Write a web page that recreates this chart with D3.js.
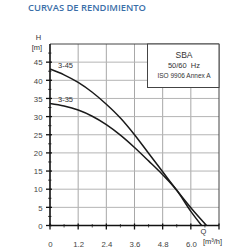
<!DOCTYPE html>
<html><head><meta charset="utf-8">
<script src="https://cdn.jsdelivr.net/npm/d3@7"></script>
<style>html,body{margin:0;padding:0;background:#fff;}svg{display:block;}</style>
</head><body>
<script>
const title = "CURVAS DE RENDIMIENTO";
const q45 = [0, 0.6, 1.2, 1.8, 2.4, 3.0, 3.6, 4.2, 4.8, 5.4, 6.0, 6.67];
const h45 = [43.1, 41.5, 39.4, 36.7, 33.4, 29.6, 25.0, 19.9, 14.8, 9.7, 4.9, 0];
const q35 = [0, 0.6, 1.2, 1.8, 2.4, 3.0, 3.6, 4.2, 4.8, 5.4, 6.0, 6.46];
const h35 = [33.6, 32.9, 31.8, 30.1, 27.8, 24.9, 21.5, 17.8, 14.0, 9.7, 3.9, 0];
const seriesNames = ["3-45", "3-35"];
const xTicks = [0, 1.2, 2.4, 3.6, 4.8, 6.0];
const xTickLabels = ["0", "1.2", "2.4", "3.6", "4.8", "6.0"];
const yTicks = [0, 5, 10, 15, 20, 25, 30, 35, 40, 45];
const legendLines = ["SBA", "50/60  Hz", "ISO 9906 Annex A"];

const W = 250, H = 250;
const svg = d3.select("body").append("svg").attr("width", W).attr("height", H);
const x = d3.scaleLinear().domain([0, 7.2]).range([50, 219]);
const y = d3.scaleLinear().domain([0, 50]).range([225.5, 44]);
const font = "'Liberation Sans', Arial, sans-serif";

svg.append("text").attr("x", 28).attr("y", 10.5).text(title)
  .attr("font-family", "'Open Sans', sans-serif").attr("font-weight", 600)
  .attr("font-size", 8.6).attr("fill", "#3a6ea8")
  .attr("textLength", 118).attr("lengthAdjust", "spacingAndGlyphs");

// grid
const g = svg.append("g");
g.selectAll("line.gx").data(xTicks.slice(1)).join("line")
  .attr("x1", d => x(d)).attr("x2", d => x(d)).attr("y1", y(50)).attr("y2", y(0))
  .attr("stroke", "#a8a8a8").attr("stroke-width", 1);
g.selectAll("line.gy").data(yTicks.slice(1)).join("line")
  .attr("x1", x(0)).attr("x2", x(7.2)).attr("y1", d => y(d)).attr("y2", d => y(d))
  .attr("stroke", "#b4b4b4").attr("stroke-width", 1);

// frame top/right
svg.append("path").attr("d", `M${x(0)},${y(50)}H${x(7.2)}V${y(0)}`)
  .attr("fill", "none").attr("stroke", "#444").attr("stroke-width", 1);

// legend box
const lb = {x0: 147.5, y0: y(50), x1: x(7.2), y1: 87.5};
svg.append("rect").attr("x", lb.x0).attr("y", lb.y0).attr("width", lb.x1 - lb.x0).attr("height", lb.y1 - lb.y0)
  .attr("fill", "#fff").attr("stroke", "#444").attr("stroke-width", 1);
const lsz = [8.5, 7.5, 6.5], ly = [58, 67.5, 77.5];
legendLines.forEach((t, i) => {
  svg.append("text").attr("x", 184).attr("y", ly[i]).attr("text-anchor", "middle")
    .attr("font-family", font).attr("font-size", lsz[i]).attr("fill", "#333")
    .attr("xml:space", "preserve").style("white-space", "pre").text(t);
});

// axes
const xAxis = d3.axisBottom(x).tickValues(xTicks).tickFormat((d, i) => xTickLabels[i]).tickSize(0).tickPadding(0);
const gx = svg.append("g").attr("transform", `translate(0,${y(0)})`).call(xAxis);
gx.select(".domain").remove();
gx.selectAll("text").attr("y", 15.5).attr("font-family", font).attr("font-size", 7.8).attr("fill", "#444");
const yAxis = d3.axisLeft(y).tickValues(yTicks).tickSize(0).tickPadding(0);
const gy = svg.append("g").attr("transform", `translate(${x(0)},0)`).call(yAxis);
gy.select(".domain").remove();
gy.selectAll("text").attr("x", -7.5).attr("dy", "0.35em").attr("font-family", font).attr("font-size", 7.8).attr("fill", "#444");

// minor/major tick marks
const xMinor = d3.range(0.6, 7.2, 1.2);
svg.selectAll("line.xmaj").data(xTicks.concat([7.2])).join("line")
  .attr("x1", d => x(d)).attr("x2", d => x(d)).attr("y1", y(0) - 2).attr("y2", y(0) + 4)
  .attr("stroke", "#111").attr("stroke-width", 1.3);
svg.selectAll("line.xmin").data(xMinor).join("line")
  .attr("x1", d => x(d)).attr("x2", d => x(d)).attr("y1", y(0) - 1.5).attr("y2", y(0) + 2)
  .attr("stroke", "#555").attr("stroke-width", 1);
const yMinor = d3.range(2.5, 50, 5);
svg.selectAll("line.ymaj").data(yTicks).join("line")
  .attr("x1", x(0) - 4).attr("x2", x(0) + 2).attr("y1", d => y(d)).attr("y2", d => y(d))
  .attr("stroke", "#111").attr("stroke-width", 1.3);
svg.selectAll("line.ymin").data(yMinor).join("line")
  .attr("x1", x(0) - 2).attr("x2", x(0) + 1.5).attr("y1", d => y(d)).attr("y2", d => y(d))
  .attr("stroke", "#555").attr("stroke-width", 1);

svg.append("path").attr("d", `M${x(0)},${y(50)}V${y(0)}H${x(7.2)}`)
  .attr("fill", "none").attr("stroke", "#111").attr("stroke-width", 1.6);

// axis titles
svg.append("text").attr("x", 38.5).attr("y", 40).attr("text-anchor", "middle").text("H")
  .attr("font-family", font).attr("font-size", 7.5).attr("fill", "#333");
svg.append("text").attr("x", 37).attr("y", 49.5).attr("text-anchor", "middle").text("[m]")
  .attr("font-family", font).attr("font-size", 7.5).attr("fill", "#333");
svg.append("text").attr("x", 203.5).attr("y", 233.5).attr("text-anchor", "middle").text("Q")
  .attr("font-family", font).attr("font-size", 7.5).attr("fill", "#333");
svg.append("text").attr("x", 212.5).attr("y", 244).attr("text-anchor", "middle").text("[m³/h]")
  .attr("font-family", font).attr("font-size", 7.5).attr("fill", "#333");

// curves
const line = d3.line().x(d => x(d[0])).y(d => y(d[1])).curve(d3.curveMonotoneX);
const series = [d3.zip(q45, h45), d3.zip(q35, h35)];
svg.selectAll("path.curve").data(series).join("path")
  .attr("d", line).attr("fill", "none").attr("stroke", "#1a1a1a").attr("stroke-width", 1.5);
seriesNames.forEach((n, i) => {
  const h0 = i === 0 ? h45[0] : h35[0];
  svg.append("text").attr("x", 58).attr("y", y(h0) - 1.5).text(n)
    .attr("font-family", font).attr("font-size", 7.5).attr("fill", "#333");
});
</script>
</body></html>
